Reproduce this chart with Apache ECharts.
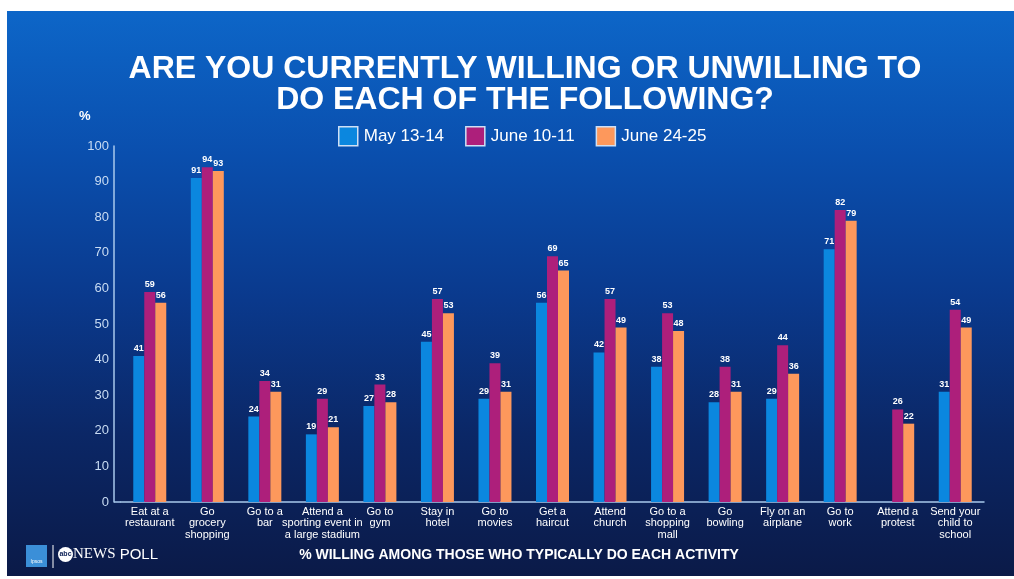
<!DOCTYPE html>
<html>
<head>
<meta charset="utf-8">
<script src="https://cdn.jsdelivr.net/npm/echarts@6/dist/echarts.min.js"></script>
<style>
html,body{margin:0;padding:0;background:#fff;}
#wrap{position:relative;width:1014px;height:579px;overflow:hidden;}
#bg{position:absolute;left:7px;top:11px;width:1007px;height:565px;
background:linear-gradient(180deg,#0d66c8 0%,#0a4fae 25%,#0a3a8e 50%,#0b2766 75%,#0b1a48 100%);}
#chart{position:absolute;left:0;top:0;width:1014px;height:579px;}
</style>
</head>
<body>
<div id="wrap"><div id="bg"></div><div id="chart"></div></div>
<script>
const categories = ['Eat at a\nrestaurant', 'Go\ngrocery\nshopping', 'Go to a\nbar', 'Attend a\nsporting event in\na large stadium', 'Go to\ngym', 'Stay in\nhotel', 'Go to\nmovies', 'Get a\nhaircut', 'Attend\nchurch', 'Go to a\nshopping\nmall', 'Go\nbowling', 'Fly on an\nairplane', 'Go to\nwork', 'Attend a\nprotest', 'Send your\nchild to\nschool'];
const seriesNames = ['May 13-14', 'June 10-11', 'June 24-25'];
const may1314 = [41, 91, 24, 19, 27, 45, 29, 56, 42, 38, 28, 29, 71, null, 31];
const june1011 = [59, 94, 34, 29, 33, 57, 39, 69, 57, 53, 38, 44, 82, 26, 54];
const june2425 = [56, 93, 31, 21, 28, 53, 31, 65, 49, 48, 31, 36, 79, 22, 49];
const yMin = 0, yMax = 100, yStep = 10;

const colors = ['#0b87df', '#ad1f7b', '#fd985c'];
const FONT = '"Liberation Sans", Arial, Helvetica, sans-serif';
const chart = echarts.init(document.getElementById('chart'), null, {renderer: 'canvas'});

function mkSeries(name, data, i) {
  return {
    name: name, type: 'bar', data: data,
    barWidth: 11, barGap: '0%',
    itemStyle: {color: colors[i]},
    label: {show: true, position: 'top', distance: 3, color: '#ffffff',
      fontSize: 9, fontWeight: 'bold', fontFamily: FONT},
    emphasis: {disabled: true}
  };
}

const option = {
  backgroundColor: 'transparent',
  animation: false,
  textStyle: {fontFamily: FONT},
  title: {
    text: 'ARE YOU CURRENTLY WILLING OR UNWILLING TO\nDO EACH OF THE FOLLOWING?',
    left: 520, top: 49, textAlign: 'center',
    textStyle: {color: '#ffffff', fontSize: 32, fontWeight: 'bold', lineHeight: 31, fontFamily: FONT}
  },
  legend: {
    data: seriesNames, top: 121, left: 333,
    itemWidth: 19, itemHeight: 19, itemGap: 21,
    icon: 'rect',
    itemStyle: {borderColor: '#cfe0f5', borderWidth: 1.5},
    textStyle: {color: '#ffffff', fontSize: 17, fontFamily: FONT, padding: [0, 0, 0, 1]}
  },
  grid: {left: 121, right: 30, top: 146, bottom: 77, containLabel: false},
  xAxis: {
    type: 'category', data: categories,
    axisLine: {lineStyle: {color: '#a9c9ec', width: 1.5}},
    axisTick: {show: false},
    axisLabel: {interval: 0, color: '#ffffff', fontSize: 11, lineHeight: 11.5, margin: 4, fontFamily: FONT}
  },
  yAxis: {
    type: 'value', min: yMin, max: yMax, interval: yStep,
    offset: 7,
    axisLine: {show: true, lineStyle: {color: '#a9c9ec', width: 1.5}},
    axisTick: {show: false},
    splitLine: {show: false},
    axisLabel: {color: '#c9dcf3', fontSize: 13, margin: 5, fontFamily: FONT}
  },
  series: [
    mkSeries(seriesNames[0], may1314, 0),
    mkSeries(seriesNames[1], june1011, 1),
    mkSeries(seriesNames[2], june2425, 2)
  ],
  graphic: [
    {type: 'line', shape: {x1: 114, y1: 502, x2: 121, y2: 502}, style: {stroke: '#a9c9ec', lineWidth: 1.5}, silent: true},
    {type: 'text', x: 79, y: 110, style: {text: '%', fill: '#ffffff', font: 'bold 13px ' + FONT}, silent: true},
    {type: 'text', x: 519, y: 555, style: {text: '% WILLING AMONG THOSE WHO TYPICALLY DO EACH ACTIVITY', fill: '#ffffff', font: 'bold 14px ' + FONT, textAlign: 'center', textVerticalAlign: 'middle'}, silent: true},
    {type: 'rect', shape: {x: 26, y: 545, width: 21, height: 22}, style: {fill: '#3b8fd8'}, silent: true},
    {type: 'text', x: 36.5, y: 562, style: {text: 'Ipsos', fill: '#ffffff', font: '5px ' + FONT, textAlign: 'center', textVerticalAlign: 'middle'}, silent: true},
    {type: 'line', shape: {x1: 53, y1: 545, x2: 53, y2: 568}, style: {stroke: '#ffffff', lineWidth: 1}, silent: true},
    {type: 'circle', shape: {cx: 65.5, cy: 554.5, r: 7.5}, style: {fill: '#ffffff'}, silent: true},
    {type: 'text', x: 65.5, y: 554.5, style: {text: 'abc', fill: '#0b1f55', font: 'bold 7px ' + FONT, textAlign: 'center', textVerticalAlign: 'middle'}, silent: true},
    {type: 'text', x: 73, y: 554.5, style: {
      text: '{a|NEWS}{b| POLL}', textVerticalAlign: 'middle',
      rich: {a: {fill: '#ffffff', fontSize: 15, fontFamily: '"Liberation Serif", "DejaVu Serif", serif'},
             b: {fill: '#ffffff', fontSize: 15, fontFamily: FONT}}
    }, silent: true}
  ]
};
chart.setOption(option);
</script>
</body>
</html>
